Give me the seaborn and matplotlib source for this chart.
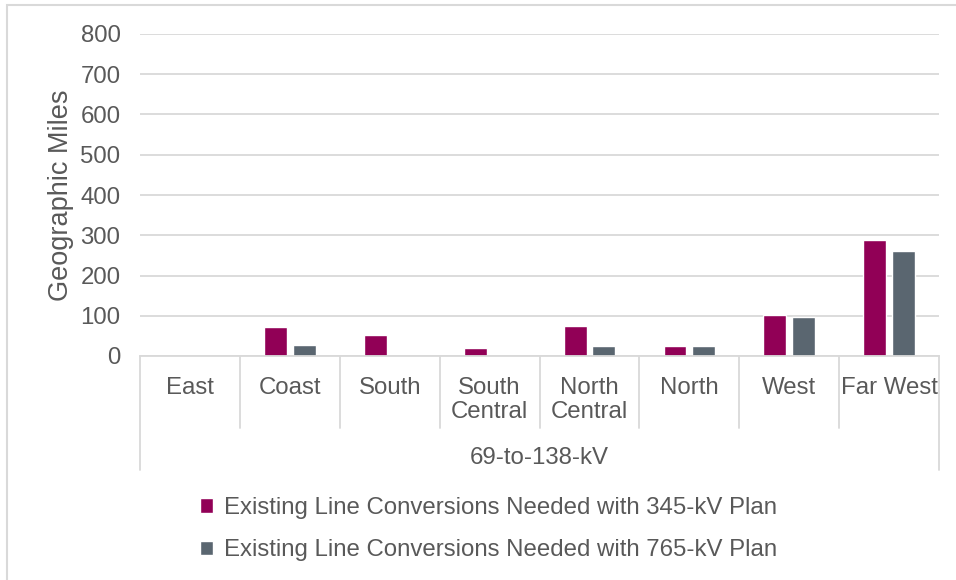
import matplotlib
matplotlib.use("Agg")
import matplotlib.pyplot as plt
import matplotlib.transforms as mtransforms
from matplotlib.patches import Rectangle
import seaborn as sns
import pandas as pd

# Regions and geographic miles of 69-to-138-kV line conversions
regions = ["East", "Coast", "South", "South\nCentral", "North\nCentral", "North", "West", "Far West"]
miles_345 = [0, 72, 52, 21, 74, 24, 103, 289]
miles_765 = [0, 27, 0, 0, 24, 24, 97, 262]
series_names = [
    "Existing Line Conversions Needed with 345-kV Plan",
    "Existing Line Conversions Needed with 765-kV Plan",
]
group_label = "69-to-138-kV"
y_ticks = [0, 100, 200, 300, 400, 500, 600, 700, 800]

colors = ["#910056", "#5A6670"]
text_color = "#595959"
line_color = "#D9D9D9"

df = pd.DataFrame({
    "Region": regions * 2,
    "Miles": miles_345 + miles_765,
    "Series": [series_names[0]] * len(regions) + [series_names[1]] * len(regions),
})

sns.set_theme(style="white")
plt.rcParams["font.family"] = ["Liberation Sans", "DejaVu Sans"]

W, H = 956, 580
fig = plt.figure(figsize=(W / 100, H / 100), dpi=100)
left, right, top, bottom = 140, 939, 34, 356
ax = fig.add_axes([left / W, 1 - bottom / H, (right - left) / W, (bottom - top) / H])

sns.barplot(data=df, x="Region", y="Miles", hue="Series", order=regions,
            hue_order=series_names, palette=colors, width=0.574, gap=0.2,
            saturation=1, ax=ax, legend=True)

handles, labels = ax.get_legend_handles_labels()
ax.get_legend().remove()

ax.set_ylim(0, 800)
ax.set_xlim(-0.5, len(regions) - 0.5)
ax.set_yticks(y_ticks)
ax.set_yticklabels([str(t) for t in y_ticks])
ax.yaxis.grid(True, color=line_color, linewidth=1.3)
ax.set_axisbelow(True)
for side in ["top", "right", "left"]:
    ax.spines[side].set_visible(False)
ax.spines["bottom"].set_color(line_color)
ax.spines["bottom"].set_linewidth(1.3)

fs = 17.3
ax.tick_params(axis="both", length=0, labelsize=fs, labelcolor=text_color)
ax.tick_params(axis="y", pad=14)
ax.tick_params(axis="x", pad=15)
for lbl in ax.get_xticklabels():
    lbl.set_linespacing(1.1)
ax.set_xlabel("")
ax.set_ylabel("Geographic Miles", fontsize=19.5, color=text_color)
ax.yaxis.set_label_coords(-0.083, 0.5)

# Category separators below the axis and the enclosing group box
trans = mtransforms.blended_transform_factory(ax.transData, ax.transAxes)
ax_h = bottom - top
inner_depth = -(428 - bottom) / ax_h
outer_depth = -(470 - bottom) / ax_h
for i in range(1, len(regions)):
    ax.plot([i - 0.5, i - 0.5], [0, inner_depth], transform=trans,
            color=line_color, linewidth=1.3, clip_on=False)
for xe in [-0.5, len(regions) - 0.5]:
    ax.plot([xe, xe], [0, outer_depth], transform=trans,
            color=line_color, linewidth=1.3, clip_on=False)
ax.text((len(regions) - 1) / 2, -(458 - bottom) / ax_h, group_label, transform=trans,
        ha="center", va="center", fontsize=fs, color=text_color)

leg = fig.legend(handles, labels, loc="upper left",
                 bbox_to_anchor=(200 / W, 1 - 497 / H), frameon=False,
                 fontsize=fs, handlelength=0.55, handleheight=0.55,
                 handletextpad=0.45, labelspacing=0.85, borderpad=0,
                 borderaxespad=0)
for t in leg.get_texts():
    t.set_color(text_color)

# Light frame around the chart area
fig.patches.append(Rectangle((7 / W, -0.1), 1.2, 1 - 5 / H + 0.1,
                             transform=fig.transFigure, fill=False,
                             edgecolor=line_color, linewidth=1.5))

fig.savefig("out.png", dpi=100)
